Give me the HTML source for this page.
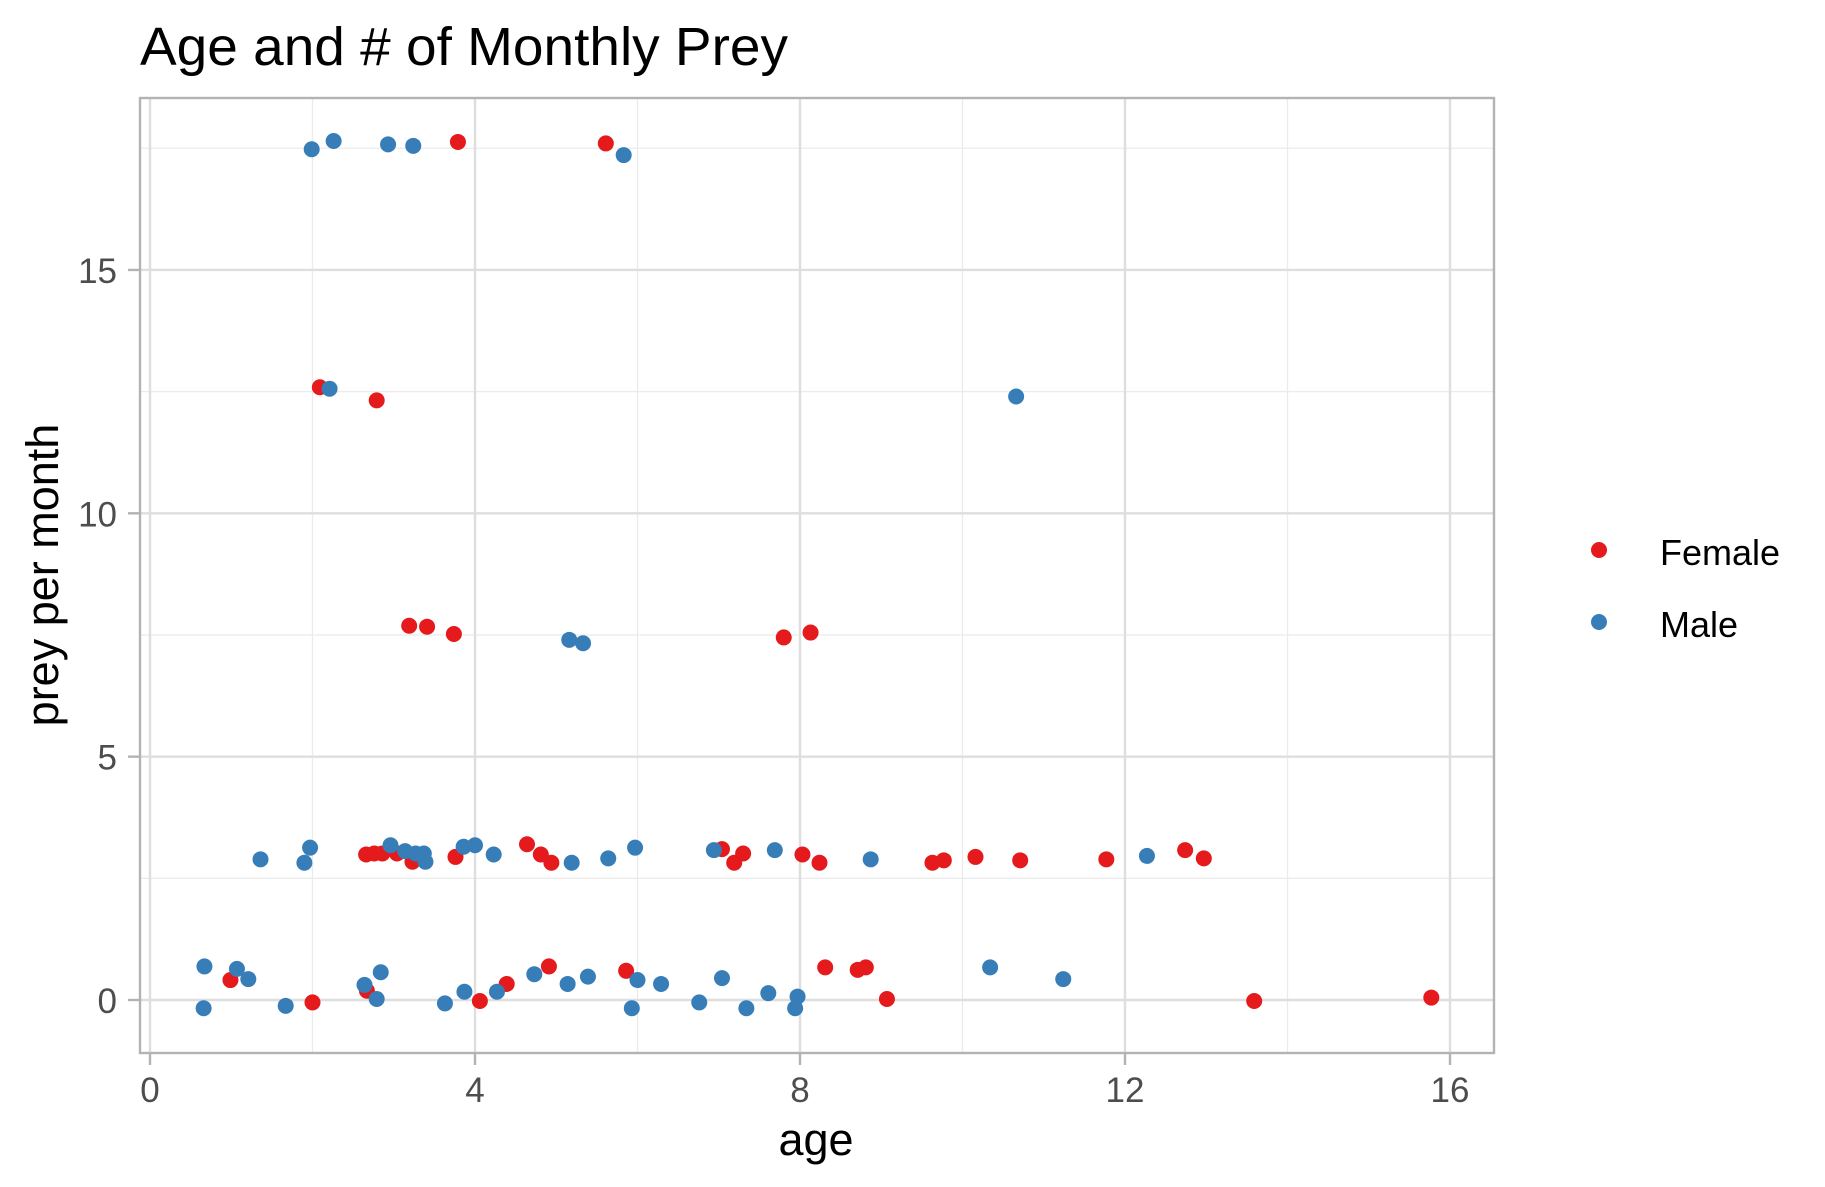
<!DOCTYPE html>
<html><head><meta charset="utf-8"><style>
html,body{margin:0;padding:0;background:#fff;}
svg{display:block;font-family:"Liberation Sans",Arial,sans-serif;}
</style></head><body>
<svg id="chart" width="1825" height="1187" viewBox="0 0 1825 1187" xmlns="http://www.w3.org/2000/svg">
<rect width="1825" height="1187" fill="#fff"/>
<text x="140" y="65" font-size="54" fill="#000" textLength="648" lengthAdjust="spacingAndGlyphs">Age and # of Monthly Prey</text>
<g id="grid"></g>
<g id="points"></g>
<rect x="140" y="98" width="1354" height="955" fill="none" stroke="#b3b3b3" stroke-width="2.4"/>
<g id="axes"></g>
<text x="816" y="1155" font-size="45" text-anchor="middle" fill="#000">age</text>
<text transform="translate(58,575) rotate(-90)" font-size="45" text-anchor="middle" fill="#000">prey per month</text>
<g>
<circle cx="1599" cy="550" r="8" fill="#E41A1C"/>
<text x="1660" y="565" font-size="36" fill="#000">Female</text>
<circle cx="1599" cy="622" r="8" fill="#377EB8"/>
<text x="1660" y="637" font-size="36" fill="#000">Male</text>
</g>
</svg>
<script>
const xTicks=[0,4,8,12,16];
const xMinor=[2,6,10,14];
const yTicks=[0,5,10,15];
const yMinor=[2.5,7.5,12.5,17.5];
const femaleAge=[3.79,5.61,2.09,2.79,3.19,3.41,3.74,7.8,8.13,2.66,2.76,2.86,3.04,3.23,3.76,4.64,4.81,4.94,7.04,7.19,7.3,8.03,8.24,9.63,9.77,10.16,10.71,11.77,12.74,12.97,0.99,2.0,2.67,4.06,4.39,4.91,5.86,8.31,8.71,8.81,9.07,13.59,15.77];
const femalePrey=[17.63,17.6,12.59,12.32,7.69,7.67,7.52,7.45,7.55,2.99,3.01,3.01,3.01,2.84,2.94,3.2,2.99,2.82,3.1,2.82,3.01,2.99,2.82,2.82,2.87,2.94,2.87,2.89,3.08,2.91,0.41,-0.05,0.19,-0.02,0.33,0.69,0.6,0.67,0.62,0.67,0.02,-0.02,0.05];
const maleAge=[1.99,2.26,2.93,3.24,5.83,2.21,10.66,5.16,5.33,1.36,1.9,1.97,2.96,3.14,3.27,3.37,3.39,3.86,4.0,4.23,5.19,5.64,5.97,6.94,7.69,8.87,12.27,0.67,0.66,1.07,1.21,1.67,2.64,2.79,2.84,3.63,3.87,4.27,4.73,5.14,5.39,5.93,6.0,6.29,6.76,7.04,7.34,7.61,7.94,7.97,10.34,11.24];
const malePrey=[17.48,17.65,17.58,17.55,17.36,12.56,12.40,7.40,7.33,2.89,2.82,3.13,3.18,3.06,3.01,3.01,2.84,3.15,3.18,2.99,2.82,2.91,3.13,3.08,3.08,2.89,2.96,0.69,-0.17,0.64,0.43,-0.12,0.31,0.02,0.57,-0.07,0.17,0.17,0.53,0.33,0.48,-0.17,0.41,0.33,-0.05,0.45,-0.17,0.14,-0.17,0.07,0.67,0.43];
const NS="http://www.w3.org/2000/svg";
const X0=150,XS=81.25,Y0=1000,YS=48.67;
function sx(v){return X0+v*XS;}
function sy(v){return Y0-v*YS;}
function mk(tag,attrs,parent){const e=document.createElementNS(NS,tag);for(const k in attrs)e.setAttribute(k,attrs[k]);parent.appendChild(e);return e;}
const grid=document.getElementById('grid'),axes=document.getElementById('axes'),pts=document.getElementById('points');
xMinor.forEach(v=>{const l=mk('line',{x1:sx(v),x2:sx(v),y1:98,y2:1053,stroke:'#ebebeb','stroke-width':1.3},grid);

});
yMinor.forEach(v=>{const l=mk('line',{x1:140,x2:1494,y1:sy(v),y2:sy(v),stroke:'#ebebeb','stroke-width':1.3},grid);

});
xTicks.forEach(v=>{const l=mk('line',{x1:sx(v),x2:sx(v),y1:98,y2:1053,stroke:'#dedede','stroke-width':2.4},grid);


const t=mk('line',{x1:sx(v),x2:sx(v),y1:1054,y2:1065,stroke:'#b3b3b3','stroke-width':2.4},axes);


const tx=mk('text',{x:sx(v),y:1102,'font-size':35,'text-anchor':'middle',fill:'#4d4d4d'},axes);tx.textContent=String(v);

});
yTicks.forEach(v=>{const l=mk('line',{x1:140,x2:1494,y1:sy(v),y2:sy(v),stroke:'#dedede','stroke-width':2.4},grid);


const t=mk('line',{x1:128,x2:139,y1:sy(v),y2:sy(v),stroke:'#b3b3b3','stroke-width':2.4},axes);


const tx=mk('text',{x:117,y:sy(v)+13,'font-size':35,'text-anchor':'end',fill:'#4d4d4d'},axes);tx.textContent=String(v);

});
femaleAge.forEach((a,i)=>{const c=mk('circle',{cx:sx(a),cy:sy(femalePrey[i]),r:8,fill:'#E41A1C'},pts);

});
maleAge.forEach((a,i)=>{const c=mk('circle',{cx:sx(a),cy:sy(malePrey[i]),r:8,fill:'#377EB8'},pts);

});
</script>
</body></html>
